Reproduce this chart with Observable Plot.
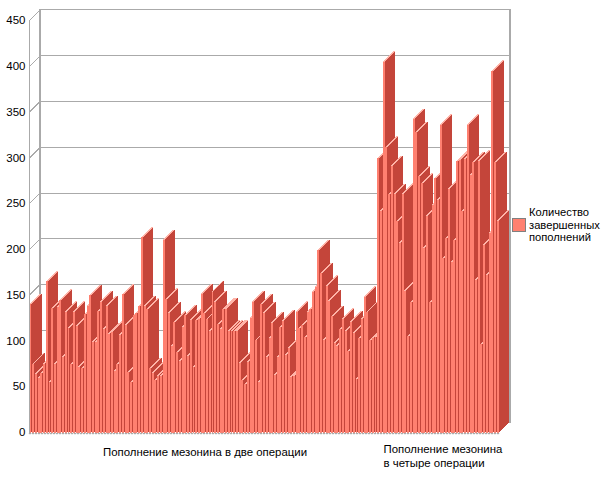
<!DOCTYPE html>
<html lang="ru">
<head>
<meta charset="utf-8">
<script src="https://cdn.jsdelivr.net/npm/d3@7"></script>
<script src="https://cdn.jsdelivr.net/npm/@observablehq/plot@0.6"></script>
<style>
html,body{margin:0;padding:0;background:#fff}
#wrap{position:relative;width:604px;height:477px;font-family:"Liberation Sans",Arial,sans-serif;color:#000}
#legend{position:absolute;left:512px;top:206px;display:flex;align-items:center;font-size:11.2px;line-height:12.5px}
#legend i{display:block;width:12px;height:12px;background:#ff8070;border:1px solid #808080;margin-right:3px}
</style>
</head>
<body>
<div id="wrap"><div id="chart"></div><div id="legend"><i></i><span id="legendText"></span></div></div>
<script>
const values = [
140,75,64,60,65,75,165,55,136,75,137,145,83,132,114,75,132,116,72,70,
129,138,150,99,99,133,143,113,138,108,110,67,75,107,151,117,66,55,128,130,
138,213,138,135,70,65,57,62,62,210,146,131,95,121,88,78,115,128,84,123,
71,123,124,151,130,124,111,154,143,118,113,135,135,111,111,111,111,76,57,53,
77,125,143,101,55,140,131,83,103,120,63,83,115,122,85,92,61,62,132,114,
117,104,132,135,154,159,199,174,101,160,144,127,98,95,113,124,111,89,121,109,
58,103,124,148,132,101,103,104,300,242,405,312,260,291,260,231,207,261,155,105,
142,342,328,280,272,202,237,142,249,278,254,336,191,212,266,186,210,296,298,242,
299,336,281,295,167,297,97,205,172,218,395,295,231
];
const yTicks = [0,50,100,150,200,250,300,350,400,450];
const groupLabelA = "Пополнение мезонина в две операции";
const groupLabelB = "Пополнение мезонина\nв четыре операции";
const groupLabelAX = 64.6;
const groupLabelBX = 130.3;
const seriesName = "Количество завершенных пополнений";
const lineColor = "#aaaaaa";
const frontShare = 0.72;   // share of a slot taken by the bar face
const depthX = 3.87;       // depth in category slots
const depthY = 11.5;       // depth in value units
const count = values.length;

const faces = [];
values.forEach((v, i) => {
  const r = i + frontShare;
  const add = (face, pts) => pts.forEach(([x, y]) => faces.push({id: i + face, face, x, y}));
  add("side", [[r,0],[r,v],[r+depthX,v+depthY],[r+depthX,depthY]]);
  add("top", [[i,v],[r,v],[r+depthX,v+depthY],[i+depthX,v+depthY]]);
  add("front", [[i,0],[r,0],[r,v],[i,v]]);
});

const grid = yTicks.flatMap(t => [
  {t, x: 0, y: t},
  {t, x: depthX, y: t + depthY},
  {t, x: count + depthX, y: t + depthY}
]);

const chart = Plot.plot({
  width: 604,
  height: 477,
  marginLeft: 29,
  marginRight: 105,
  marginTop: 20,
  marginBottom: 45,
  style: {fontFamily: '"Liberation Sans",Arial,sans-serif', fontSize: "12px", color: "#000", background: "#fff", overflow: "visible"},
  x: {domain: [0, count], axis: null},
  y: {domain: [0, 450], axis: null},
  color: {domain: ["side","top","front"], range: ["#c4453a","#ffb4a8","#ff8070"]},
  marks: [
    Plot.line(grid, {x: "x", y: "y", z: "t", stroke: lineColor, strokeWidth: 1, shapeRendering: "crispEdges"}),
    Plot.line([[0,0],[0,450]], {x: "0", y: "1", stroke: lineColor, strokeWidth: 1.5, shapeRendering: "crispEdges"}),
    Plot.line([[depthX,depthY],[depthX,450+depthY]], {x: "0", y: "1", stroke: lineColor, shapeRendering: "crispEdges"}),
    Plot.line([[count+depthX,depthY],[count+depthX,450+depthY]], {x: "0", y: "1", stroke: lineColor, shapeRendering: "crispEdges"}),
    Plot.line(faces, {x: "x", y: "y", z: "id", fill: "face", stroke: "none", curve: "linear-closed", shapeRendering: "crispEdges"}),
    Plot.line([[0,0],[count,0]], {x: "0", y: "1", stroke: lineColor, strokeDasharray: "1,2", dy: 1}),
    Plot.text(yTicks, {x: 0, y: d => d, text: d => String(d), textAnchor: "end", dx: -4, fill: "#000", fontSize: 11.5}),
    Plot.text([groupLabelA], {x: groupLabelAX, y: 0, text: d => d, textAnchor: "middle", lineAnchor: "top", dy: 15, fill: "#000", fontSize: 11.4}),
    Plot.text([groupLabelB], {x: groupLabelBX, y: 0, text: d => d, textAnchor: "start", lineAnchor: "top", lineHeight: 1.2, dy: 11, fill: "#000", fontSize: 11.4})
  ]
});
document.getElementById("chart").appendChild(chart);
document.getElementById("legendText").innerHTML = seriesName.split(" ").join("<br>");
</script>
</body>
</html>
